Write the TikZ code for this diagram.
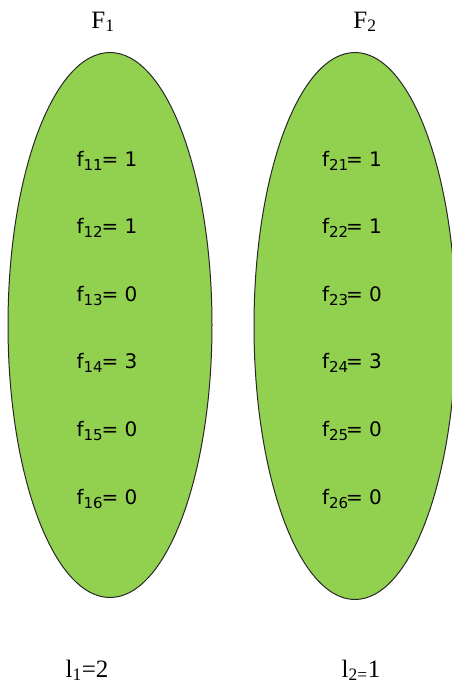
\documentclass[tikz,border=0pt]{standalone}
\usepackage{fontspec}
\setmainfont{Liberation Serif}
\newfontfamily\valfont{DejaVu Sans}
\usepackage{tikz}
\usetikzlibrary{shapes.geometric,positioning}
\definecolor{setgreen}{RGB}{146,208,80}
\definecolor{rim}{RGB}{40,40,40}
\tikzset{
  setbox/.style={draw=rim,fill=setgreen,ellipse,line width=1pt,inner sep=0pt},
  ttl/.style={font=\fontsize{25}{28}\selectfont,inner sep=0pt,anchor=base},
  val/.style={font=\valfont\fontsize{20}{24}\selectfont,inner sep=0pt,anchor=base}
}
\newcommand{\lowsub}[1]{\raisebox{-4.5pt}{\fontsize{15}{16}\selectfont#1}}

\begin{document}
\begin{tikzpicture}[x=1pt,y=-1pt]
\useasboundingbox (0,0) rectangle (452,686);
\node[setbox,minimum width=204pt,minimum height=545pt] (S1) at (110,325) {};
\node[setbox,minimum width=202pt,minimum height=547pt] (S2) at (355,326) {};
\node[ttl] (F1) at (103,28) {F\textsubscript{1}};
\node[ttl] (F2) at (365,28) {F\textsubscript{2}};
\foreach \j/\y/\a/\b in {1/166/1/1, 2/233/1/1, 3/301/0/0, 4/368/3/3, 5/436/0/0, 6/504/0/0}{
  \node[val] (f1\j) at (107,\y) {f\lowsub{1\j}\kern-1pt= \a};
  \node[val] (f2\j) at (352,\y) {f\lowsub{2\j}\kern-2pt= \b};
}
\node[ttl] (L1) at (87,677) {l\textsubscript{1}=2};
\node[ttl] (L2) at (361,677) {l\textsubscript{2=}1};
\end{tikzpicture}
\end{document}
